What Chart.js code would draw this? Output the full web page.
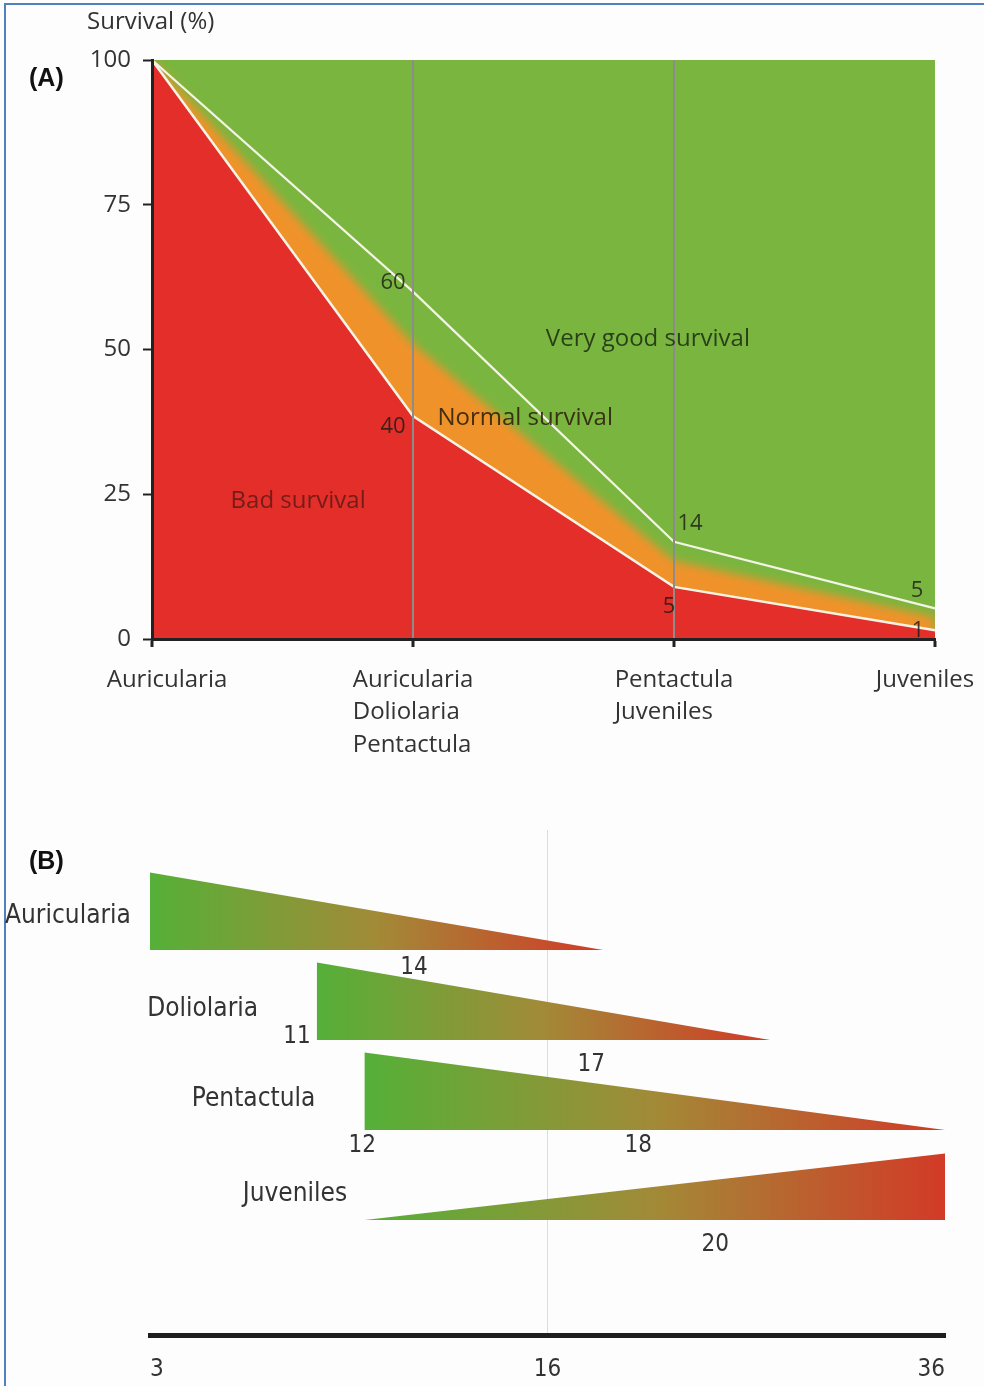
<!DOCTYPE html>
<html>
<head>
<meta charset="utf-8">
<script src="https://cdn.jsdelivr.net/npm/chart.js"></script>
<style>
  body { margin: 0; background: #fdfdfd; }
  #page { position: relative; width: 984px; height: 1386px; overflow: hidden; font-family: "Open Sans", sans-serif; }
  #frame { position: absolute; left: 4px; top: 3px; width: 1000px; height: 1400px; border-left: 2px solid #4f81bd; border-top: 2px solid #4f81bd; }
  canvas { position: absolute; left: 0; }
  .lbl { position: absolute; color: #333; white-space: nowrap; }
  .panel { font-family: "Liberation Sans", Arial, sans-serif; font-weight: bold; font-size: 25px; color: #111; }
</style>
</head>
<body>
<div id="page">
  <div id="frame"></div>
  <canvas id="chartA" width="984" height="800" style="top:0"></canvas>
  <canvas id="chartB" width="984" height="586" style="top:800px"></canvas>
  <div class="lbl" style="left:87px;top:3px;font-size:24px;">Survival (%)</div>
  <div class="lbl panel" style="left:29px;top:63px;">(A)</div>
  <div class="lbl panel" style="left:29px;top:846px;">(B)</div>
</div>
<script>
// (A) survival per stage
const stageLabels = [['Auricularia'], ['Auricularia', 'Doliolaria', 'Pentactula'], ['Pentactula', 'Juveniles'], ['Juveniles']];
const survivalTicks = [0, 25, 50, 75, 100];
const goodLimit = [100, 60, 16.8, 5.3];     // very good / normal
const badLimit = [100, 38.5, 9, 1.5];      // normal / bad
const normalCore = [100, 51, 13.5, 3.8];   // orange part of the normal band
const fullSurvival = [100, 100, 100, 100];
const goodLimitText = ['', '60', '14', '5'];
const badLimitText = ['', '40', '5', '1'];
const zoneNames = ['Very good survival', 'Normal survival', 'Bad survival'];

// (B) stage duration
const larvaStages = ['Auricularia', 'Doliolaria', 'Pentactula', 'Juveniles'];
const stageStart = [0, 21, 27, 27];
const stageEnd = [57, 78, 100, 100];
const heightAtStart = [0.86, 0.86, 0.86, 0];
const heightAtEnd = [0, 0, 0, 0.74];
const dayTickPos = [0, 50, 100];
const dayTickLabels = ['3', '16', '36'];
const dayNotes = ['14', '11', '17', '12', '18', '20'];

// label placement (layout only)
const goodShift = [null, [-20, -9], [16, -18], [-18, -18]];
const badShift = [null, [-20, 11], [-5, 20], [-17, 0]];
const stageLabelShift = [15, 0, 0, -10];
const zoneAt = [[1.9, 51.8], [1.43, 38.2], [0.56, 23.8]];
const zoneColors = ['rgba(28,48,18,0.88)', 'rgba(45,32,12,0.88)', 'rgba(100,26,22,0.88)'];
const nameAt = [[-2.4, -0.38], [13.6, -0.34], [20.8, -0.34], [24.8, -0.29]];
const noteAt = [[33.2, 0, 0.2], [18.5, 1, -0.04], [55.5, 1, 0.27], [26.7, 2, 0.18], [61.4, 2, 0.18], [71.1, 3, 0.27]];

const narrow = '"DejaVu Sans Condensed", "Liberation Sans Narrow", "Open Sans", sans-serif';

// blur the orange band so it melts into the green
const softBand = {
  id: 'softBand',
  afterDatasetDraw(chart, args) {
    if (args.index === 3) chart.ctx.filter = 'blur(5px)';
    if (args.index === 2) chart.ctx.filter = 'none';
  }
};

const survivalText = {
  id: 'survivalText',
  afterDraw(chart) {
    const { ctx, scales: { x, y } } = chart;
    ctx.save();
    ctx.textAlign = 'center';
    ctx.textBaseline = 'middle';
    ctx.font = '22px "Open Sans"';
    ctx.fillStyle = 'rgba(28,28,22,0.82)';
    goodLimit.forEach((v, i) => {
      if (!goodLimitText[i]) return;
      ctx.fillText(goodLimitText[i], x.getPixelForValue(i) + goodShift[i][0], y.getPixelForValue(v) + goodShift[i][1]);
    });
    badLimit.forEach((v, i) => {
      if (!badLimitText[i]) return;
      ctx.fillText(badLimitText[i], x.getPixelForValue(i) + badShift[i][0], y.getPixelForValue(v) + badShift[i][1]);
    });
    ctx.font = '24px "Open Sans"';
    zoneNames.forEach((t, i) => {
      ctx.fillStyle = zoneColors[i];
      ctx.fillText(t, x.getPixelForValue(zoneAt[i][0]), y.getPixelForValue(zoneAt[i][1]));
    });

    // stage names under the axis, lines left-aligned inside a centred block
    ctx.fillStyle = '#333';
    ctx.textAlign = 'left';
    ctx.font = '24px "Open Sans"';
    stageLabels.forEach((lines, i) => {
      const w = Math.max(...lines.map(l => ctx.measureText(l).width));
      const left = x.getPixelForValue(i) - w / 2 + stageLabelShift[i];
      lines.forEach((l, k) => ctx.fillText(l, left, y.bottom + 41 + k * 32.5));
    });
    ctx.restore();
  }
};

new Chart(document.getElementById('chartA'), {
  type: 'line',
  data: {
    labels: stageLabels,
    datasets: [
      { data: goodLimit, borderColor: '#f4f4e6', borderWidth: 2.2, fill: false, pointRadius: 0 },
      { data: badLimit, borderColor: '#f4f4e6', borderWidth: 2.5, backgroundColor: '#e32e2a', fill: 'origin', pointRadius: 0 },
      { data: normalCore, borderWidth: 0, borderColor: 'rgba(0,0,0,0)', backgroundColor: '#f0922a', fill: 'origin', pointRadius: 0 },
      { data: fullSurvival, borderWidth: 0, borderColor: 'rgba(0,0,0,0)', backgroundColor: '#7ab63f', fill: 'origin', pointRadius: 0 }
    ]
  },
  options: {
    responsive: false,
    animation: false,
    devicePixelRatio: 1,
    layout: { padding: { top: 60, right: 49, left: 0, bottom: 0 } },
    plugins: { legend: { display: false }, tooltip: { enabled: false } },
    scales: {
      x: {
        offset: false,
        afterFit: s => { s.height = 161; s.paddingLeft = 0; s.paddingRight = 0; },
        grid: {
          z: 1,
          color: c => (c.index === 1 || c.index === 2) ? '#8c8c8c' : 'rgba(0,0,0,0)',
          lineWidth: 2,
          tickColor: '#222',
          tickLength: 8,
          tickWidth: 3
        },
        border: { z: 1, color: '#222', width: 3 },
        ticks: { display: false, autoSkip: false }
      },
      y: {
        min: 0,
        max: 100,
        afterFit: s => { s.width = 152; },
        afterBuildTicks: s => { s.ticks = survivalTicks.map(v => ({ value: v })); },
        grid: { drawOnChartArea: false, tickColor: '#222', tickLength: 9, tickWidth: 2 },
        border: { z: 1, color: '#222', width: 3 },
        ticks: { color: '#333', font: { family: 'Open Sans', size: 24 }, padding: 12 }
      }
    }
  },
  plugins: [softBand, survivalText]
});

function stageGradient(chart, from, to) {
  if (!chart.chartArea) return '#a08a36';
  const x = chart.scales.x;
  const g = chart.ctx.createLinearGradient(x.getPixelForValue(from), 0, x.getPixelForValue(to), 0);
  g.addColorStop(0, '#55b038');
  g.addColorStop(0.5, '#a28a37');
  g.addColorStop(1, '#d23a27');
  return g;
}

const stageText = {
  id: 'stageText',
  afterDraw(chart) {
    const { ctx, scales: { x, y } } = chart;
    ctx.save();
    ctx.textBaseline = 'middle';
    ctx.fillStyle = '#333';
    ctx.textAlign = 'right';
    ctx.font = '26px ' + narrow;
    larvaStages.forEach((n, i) => {
      ctx.fillText(n, x.getPixelForValue(nameAt[i][0]), y.getPixelForValue(i + nameAt[i][1]));
    });
    ctx.textAlign = 'center';
    ctx.font = '24px ' + narrow;
    dayNotes.forEach((t, k) => {
      ctx.fillText(t, x.getPixelForValue(noteAt[k][0]), y.getPixelForValue(noteAt[k][1] + noteAt[k][2]));
    });
    ctx.restore();
  }
};

new Chart(document.getElementById('chartB'), {
  type: 'line',
  data: {
    datasets: larvaStages.map((name, i) => ({
      label: name,
      data: [
        { x: stageStart[i], y: i - heightAtStart[i] },
        { x: stageEnd[i], y: i - heightAtEnd[i] },
        { x: stageEnd[i], y: i },
        { x: stageStart[i], y: i }
      ],
      fill: 'shape',
      borderWidth: 0,
      borderColor: 'rgba(0,0,0,0)',
      pointRadius: 0,
      tension: 0,
      backgroundColor: c => stageGradient(c.chart, stageStart[i], stageEnd[i])
    }))
  },
  options: {
    responsive: false,
    animation: false,
    devicePixelRatio: 1,
    layout: { padding: { left: 150, right: 39, top: 30, bottom: 0 } },
    plugins: { legend: { display: false }, tooltip: { enabled: false } },
    scales: {
      x: {
        type: 'linear',
        min: 0,
        max: 100,
        afterBuildTicks: s => { s.ticks = dayTickPos.map(v => ({ value: v })); },
        afterFit: s => { s.height = 51; },
        grid: { color: c => (c.tick && c.tick.value === 50) ? '#dcdcdc' : 'rgba(0,0,0,0)', lineWidth: 1, drawTicks: false },
        border: { color: '#1e1e1e', width: 5 },
        ticks: {
          callback: (v, i) => dayTickLabels[i],
          align: 'inner',
          padding: 20,
          maxRotation: 0,
          color: '#333',
          font: { family: narrow, size: 24 }
        }
      },
      y: { type: 'linear', display: false, reverse: true, min: -1.333, max: 4.278 }
    }
  },
  plugins: [stageText]
});
</script>
</body>
</html>
